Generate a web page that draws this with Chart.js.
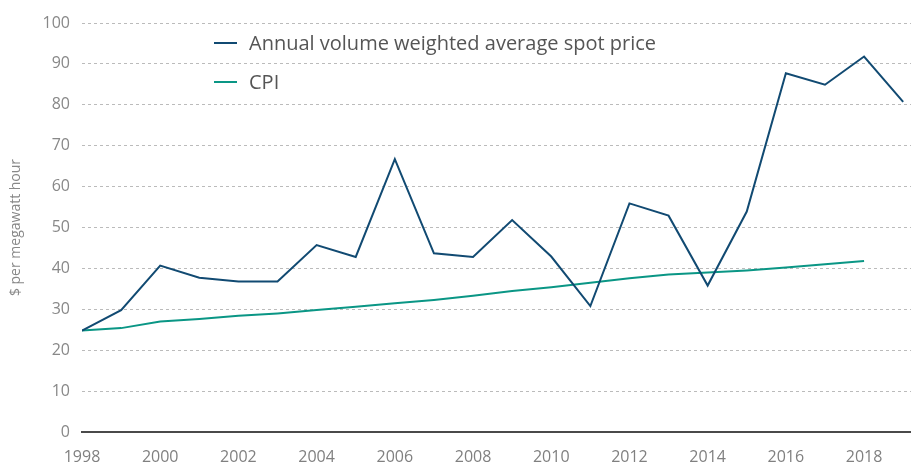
<!DOCTYPE html>
<html>
<head>
<meta charset="utf-8">
<script src="https://cdn.jsdelivr.net/npm/chart.js@4"></script>
<style>
  body { margin: 0; background: #fff; }
  #wrap { position: relative; width: 911px; height: 468px; }
</style>
</head>
<body>
<div id="wrap"><canvas id="myChart"></canvas></div>
<script>
const years = [1998, 1999, 2000, 2001, 2002, 2003, 2004, 2005, 2006, 2007, 2008,
               2009, 2010, 2011, 2012, 2013, 2014, 2015, 2016, 2017, 2018, 2019];
const spotPrice = [24.8, 29.8, 40.7, 37.7, 36.8, 36.8, 45.7, 42.8, 66.7, 43.7, 42.8,
                   51.8, 42.9, 30.8, 55.9, 52.9, 35.8, 53.9, 87.7, 84.9, 91.8, 80.7];
const cpi = [24.8, 25.4, 27.0, 27.6, 28.4, 29.0, 29.8, 30.6, 31.5, 32.3, 33.3,
             34.5, 35.4, 36.5, 37.6, 38.5, 39.0, 39.5, 40.2, 41.0, 41.8, null];
const xTickLabels = [1998, 2000, 2002, 2004, 2006, 2008, 2010, 2012, 2014, 2016, 2018];
const yTicks = [0, 100, 10];   // min, max, step

const FONT = 'Open Sans, Liberation Sans, sans-serif';

function toPoints(values) {
    return years.map((yr, i) => ({ x: yr, y: values[i] }));
}

// legend drawn inside plot, stacked vertically
const innerLegend = {
    id: 'innerLegend',
    afterDraw(chart) {
        const c = chart.ctx;
        c.save();
        c.font = '20px ' + FONT;
        c.textBaseline = 'middle';
        chart.data.datasets.forEach((ds, i) => {
            const y = 43 + i * 39;
            c.strokeStyle = ds.borderColor;
            c.lineWidth = 2;
            c.beginPath();
            c.moveTo(214, y);
            c.lineTo(237, y);
            c.stroke();
            c.fillStyle = '#555';
            c.fillText(ds.label, 249, y + 1);
        });
        c.restore();
    }
};

const yTitle = {
    id: 'yTitle',
    afterDraw(chart) {
        const c = chart.ctx;
        const a = chart.chartArea;
        c.save();
        c.translate(16, (a.top + a.bottom) / 2);
        c.rotate(-Math.PI / 2);
        c.font = '14px ' + FONT;
        c.fillStyle = '#888';
        c.textAlign = 'center';
        c.textBaseline = 'middle';
        c.fillText('$ per megawatt hour', 0, 0);
        c.restore();
    }
};

new Chart(document.getElementById('myChart'), {
    type: 'line',
    data: {
        datasets: [{
            label: 'Annual volume weighted average spot price',
            data: toPoints(spotPrice),
            borderColor: '#114a72',
            borderWidth: 2,
            pointRadius: 0,
            tension: 0
        }, {
            label: 'CPI',
            data: toPoints(cpi),
            borderColor: '#0a9685',
            borderWidth: 2,
            pointRadius: 0,
            tension: 0,
            spanGaps: false
        }]
    },
    options: {
        responsive: true,
        maintainAspectRatio: false,
        animation: false,
        layout: { padding: { top: 23, right: 0, left: 0, bottom: 0 } },
        plugins: {
            legend: { display: false },
            tooltip: { enabled: false }
        },
        scales: {
            x: {
                type: 'linear',
                min: years[0],
                max: years[years.length - 1] + 0.2,
                afterBuildTicks: s => { s.ticks = xTickLabels.map(v => ({ value: v })); },
                afterFit: s => { s.height = 36; },
                grid: { display: false, drawTicks: false },
                border: { display: true, color: '#4a4a4a', width: 2 },
                ticks: {
                    autoSkip: false,
                    maxRotation: 0,
                    padding: 16,
                    color: '#808080',
                    font: { family: FONT, size: 16 },
                    callback: v => String(v)
                }
            },
            y: {
                min: yTicks[0],
                max: yTicks[1],
                afterFit: s => { s.width = 82; },
                grid: { color: '#bbb', lineWidth: 1, drawTicks: false },
                border: { display: false, dash: [3, 3] },
                ticks: {
                    stepSize: yTicks[2],
                    padding: 12,
                    color: '#888',
                    font: { family: FONT, size: 16 }
                }
            }
        }
    },
    plugins: [innerLegend, yTitle]
});
</script>
</body>
</html>
